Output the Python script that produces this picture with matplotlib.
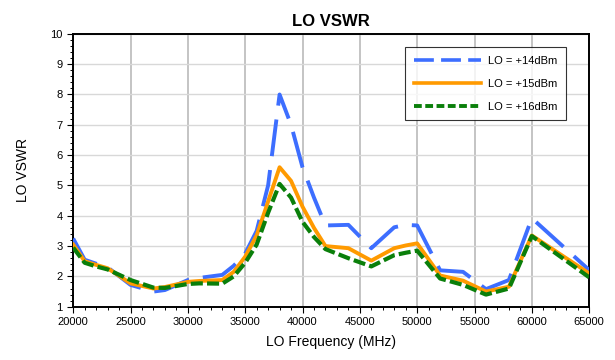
import matplotlib
matplotlib.use("Agg")
import matplotlib.pyplot as plt
from matplotlib.lines import Line2D
from matplotlib.ticker import MultipleLocator

plt.rcParams['font.family'] = ['Liberation Sans', 'DejaVu Sans']

# LO frequency (MHz)
freq = [20000, 21000, 22000, 23000, 25000, 27000, 28000, 30000, 31000, 33000,
        34000, 35000, 36000, 37000, 38000, 39000, 40000, 41000, 42000, 44000,
        46000, 48000, 49000, 50000, 52000, 54000, 56000, 58000, 60000, 65000]

# VSWR for each LO drive level
vswr_14 = [3.25, 2.55, 2.42, 2.3, 1.72, 1.5, 1.55, 1.88, 1.95, 2.05,
           2.35, 2.75, 3.5, 5.0, 8.0, 7.0, 5.6, 4.6, 3.68, 3.7,
           2.93, 3.62, 3.7, 3.68, 2.2, 2.15, 1.58, 1.88, 3.92, 2.21]
vswr_15 = [3.05, 2.5, 2.38, 2.27, 1.77, 1.6, 1.65, 1.82, 1.85, 1.88,
           2.15, 2.65, 3.35, 4.47, 5.6, 5.15, 4.3, 3.6, 3.0, 2.93,
           2.52, 2.93, 3.02, 3.09, 2.03, 1.86, 1.5, 1.66, 3.35, 2.1]
vswr_16 = [2.95, 2.45, 2.33, 2.23, 1.88, 1.63, 1.62, 1.75, 1.77, 1.76,
           2.0, 2.45, 3.05, 4.1, 5.05, 4.6, 3.8, 3.3, 2.9, 2.6,
           2.33, 2.7, 2.78, 2.85, 1.93, 1.72, 1.4, 1.6, 3.33, 1.97]

labels = ['LO = +14dBm', 'LO = +15dBm', 'LO = +16dBm']
c_blue = '#3D6EFF'
c_orange = '#FF9A00'
c_green = '#0A7F0A'

fig = plt.figure(figsize=(6.15, 3.6), dpi=100)
ax = fig.add_axes([0.119, 0.148, 0.839, 0.758])

ax.plot(freq, vswr_14, color=c_blue, lw=2.8, dashes=(9.5, 3.6), zorder=3)
ax.plot(freq, vswr_15, color=c_orange, lw=2.8, zorder=4)
ax.plot(freq, vswr_16, color=c_green, lw=3.0, dashes=(2.9, 1.0), zorder=5)

ax.set_xlim(20000, 65000)
ax.set_ylim(1, 10)
ax.xaxis.set_major_locator(MultipleLocator(5000))
ax.xaxis.set_minor_locator(MultipleLocator(1000))
ax.yaxis.set_major_locator(MultipleLocator(1))
ax.yaxis.set_minor_locator(MultipleLocator(0.2))

ax.grid(axis='x', which='major', color='#c4c4c4', lw=1.4, zorder=0)
ax.grid(axis='y', which='major', color='#d8d8d8', lw=1.0, zorder=0)

ax.tick_params(which='major', length=4, width=0.8, labelsize=8, direction='out')
ax.tick_params(which='minor', length=2.5, width=0.7, direction='out')
for s in ax.spines.values():
    s.set_linewidth(1.4)

ax.set_title('LO VSWR', fontsize=12, fontweight='bold', pad=6)
ax.set_xlabel('LO Frequency (MHz)', fontsize=10, labelpad=6)
ax.set_ylabel('LO VSWR', fontsize=10, labelpad=15)

handles = [
    Line2D([], [], color=c_blue, lw=2.6, dashes=(5.5, 2.0)),
    Line2D([], [], color=c_orange, lw=2.6),
    Line2D([], [], color=c_green, lw=2.8, dashes=(2.0, 0.9)),
]
leg = fig.legend(handles, labels, loc='upper right', bbox_to_anchor=(0.921, 0.869),
                 fontsize=8, frameon=True, fancybox=False, edgecolor='black',
                 handlelength=6.1, handletextpad=0.6, labelspacing=1.15,
                 borderpad=0.8, borderaxespad=0)
leg.get_frame().set_linewidth(0.8)

fig.savefig('out.png', dpi=100)
